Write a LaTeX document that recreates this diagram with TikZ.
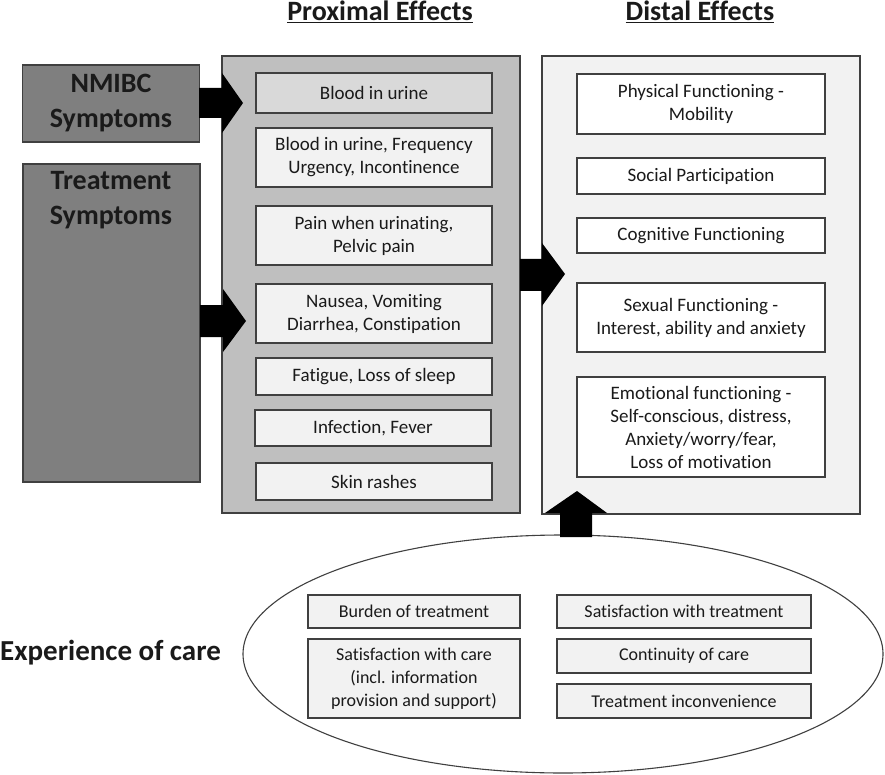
\documentclass[tikz,border=0pt]{standalone}
\usepackage{fontspec}
\setmainfont[Ligatures=NoCommon]{Carlito}
\usetikzlibrary{shapes.geometric}
\definecolor{dg}{HTML}{7F7F7F}
\definecolor{mg}{HTML}{BFBFBF}
\definecolor{lg}{HTML}{F2F2F2}
\definecolor{bg}{HTML}{D9D9D9}
\definecolor{edgec}{HTML}{404040}
\definecolor{txt}{HTML}{1A1A1A}
\begin{document}
\begin{tikzpicture}[x=1pt,y=-1pt]
\tikzset{
 frame/.style={draw=edgec, line width=1.5pt},
 pbox/.style={frame, fill=lg, minimum width=236pt, align=center, inner sep=0pt, font=\fontsize{19}{23}\selectfont, text=txt},
 dbox/.style={pbox, fill=white, minimum width=248pt},
 ebox/.style={pbox, font=\fontsize{18}{23}\selectfont},
 bigtxt/.style={font=\bfseries\fontsize{28}{35}\selectfont, text=txt, align=center},
 blockarrow/.style={fill=black, draw=none}
}
\useasboundingbox (0,0) rectangle (885,775);
\fill[white] (0,0) rectangle (885,775);

% titles
\node[bigtxt, anchor=base] (tprox) at (380,21) {\underline{Proximal Effects}};
\node[bigtxt, anchor=base] (tdist) at (700,21) {\underline{Distal Effects}};

% left symptom boxes
\node[frame, fill=dg, minimum width=177pt, minimum height=77pt, bigtxt] (nmibc) at (111,103.5) {NMIBC\\Symptoms};
\node[frame, fill=dg, minimum width=177pt, minimum height=318pt] (treat) at (111.5,323) {};
\node[bigtxt] (treattxt) at (111,200) {Treatment\\Symptoms};

% panels
\node[frame, fill=mg, minimum width=298pt, minimum height=457pt] (prox) at (371,284.5) {};
\node[frame, fill=lg, minimum width=318pt, minimum height=458pt] (dist) at (701,285) {};

% proximal boxes
\node[pbox, fill=bg, minimum height=40pt] (p1) at (374,93) {Blood in urine};
\node[pbox, minimum height=59pt] (p2) at (374,157.5) {Blood in urine, Frequency\\Urgency, Incontinence};
\node[pbox, minimum height=59pt] (p3) at (374,235.5) {Pain when urinating,\\Pelvic pain};
\node[pbox, minimum height=59pt] (p4) at (374,313.5) {Nausea, Vomiting\\Diarrhea, Constipation};
\node[pbox, minimum height=37pt] (p5) at (374,376.5) {Fatigue, Loss of sleep};
\node[pbox, minimum height=36pt] (p6) at (373,428) {Infection, Fever};
\node[pbox, minimum height=37pt] (p7) at (374,481.5) {Skin rashes};

% distal boxes
\node[dbox, minimum height=60pt] (d1) at (701,104) {Physical Functioning -\\Mobility};
\node[dbox, minimum height=36pt] (d2) at (701,176) {Social Participation};
\node[dbox, minimum height=35pt] (d3) at (701,235.5) {Cognitive Functioning};
\node[dbox, minimum height=69pt] (d4) at (701,317.5) {Sexual Functioning -\\Interest, ability and anxiety};
\node[dbox, minimum height=100pt] (d5) at (701,427) {Emotional functioning -\\Self-conscious, distress,\\Anxiety/worry/fear,\\Loss of motivation};

% experience of care
\node[draw=edgec, line width=1.1pt, fill=white, ellipse, minimum width=640pt, minimum height=238pt, inner sep=0pt] (care) at (563,654) {};
\node[font=\bfseries\fontsize{29}{35}\selectfont, text=txt, anchor=west, inner sep=0pt] (exp) at (0,653) {Experience of care};
\node[ebox, minimum width=212pt, minimum height=33pt] (e1) at (414,611.5) {Burden of treatment};
\node[ebox, minimum width=212pt, minimum height=79pt] (e2) at (414,678.5) {Satisfaction with care\\(incl. information\\provision and support)};
\node[ebox, minimum width=254pt, minimum height=33pt] (e3) at (684,611.5) {Satisfaction with treatment};
\node[ebox, minimum width=254pt, minimum height=34pt] (e4) at (684,656) {Continuity of care};
\node[ebox, minimum width=254pt, minimum height=34pt] (e5) at (684,701) {Treatment inconvenience};

% block arrows
\fill[blockarrow] (199,88) -- (222,88) -- (222,73) -- (243,103) -- (222,133) -- (222,118) -- (199,118) -- cycle;
\fill[blockarrow] (200,305) -- (223,305) -- (223,289) -- (246,321) -- (223,352) -- (223,337) -- (200,337) -- cycle;
\fill[blockarrow] (520,259) -- (542,259) -- (542,243) -- (565,274) -- (542,306) -- (542,291) -- (520,291) -- cycle;
\fill[blockarrow] (560,537) -- (560,513) -- (545,513) -- (577,491) -- (607,513) -- (592,513) -- (592,537) -- cycle;
\end{tikzpicture}
\end{document}
